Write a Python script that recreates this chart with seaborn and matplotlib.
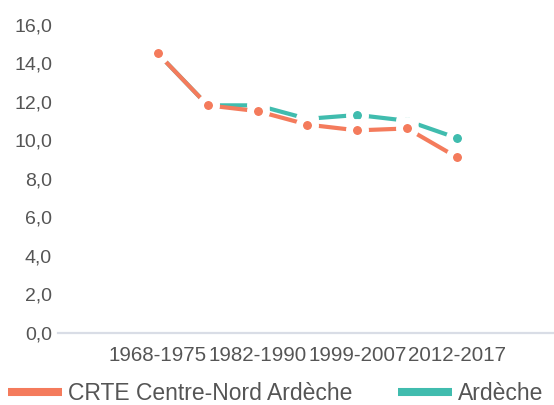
import pandas as pd
import matplotlib
matplotlib.use("Agg")
import matplotlib.pyplot as plt
from matplotlib.lines import Line2D
from matplotlib.ticker import FuncFormatter
import seaborn as sns

# Data
periodes = ['1968-1975', '1975-1982', '1982-1990', '1990-1999',
            '1999-2007', '2007-2012', '2012-2017']
crte = [14.5, 11.8, 11.5, 10.8, 10.5, 10.6, 9.1]
ardeche = [14.5, 11.8, 11.8, 11.1, 11.3, 11.0, 10.1]
series = ['CRTE Centre-Nord Ardèche', 'Ardèche']
colors = {'CRTE Centre-Nord Ardèche': '#F47B5C', 'Ardèche': '#40BCAE'}
shown_ticks = ['1968-1975', '1982-1990', '1999-2007', '2012-2017']

sns.set_style("white")
plt.rcParams['font.family'] = ['Liberation Sans', 'DejaVu Sans']
text_col = '#555555'

df = pd.DataFrame({'periode': periodes * 2,
                   'pos': list(range(len(periodes))) * 2,
                   'valeur': crte + ardeche,
                   'serie': [series[0]] * len(crte) + [series[1]] * len(ardeche)})

fig = plt.figure(figsize=(5.54, 4.05), dpi=100)
ax = fig.add_axes([0.1047, 0.179, 0.895, 0.7605])

# teal first so the orange line sits on top
for name in [series[1], series[0]]:
    sub = df[df['serie'] == name]
    sns.lineplot(data=sub, x='pos', y='valeur', ax=ax, color=colors[name],
                 linewidth=3, marker='o', markersize=11.5,
                 markeredgecolor='white', markeredgewidth=5,
                 solid_capstyle='butt', legend=False)

ax.set_xlim(-2.0, 7.94)
ax.set_ylim(0, 16)
ax.set_yticks(range(0, 17, 2))
ax.yaxis.set_major_formatter(FuncFormatter(lambda v, p: f"{v:.1f}".replace('.', ',')))
ax.set_xticks([periodes.index(t) for t in shown_ticks])
ax.set_xticklabels(shown_ticks)
ax.set_xlabel('')
ax.set_ylabel('')
ax.tick_params(axis='y', length=0, pad=4.3, labelsize=14, labelcolor=text_col)
ax.tick_params(axis='x', length=0, pad=10, labelsize=14.8, labelcolor=text_col)
for s in ['top', 'right', 'left']:
    ax.spines[s].set_visible(False)
ax.spines['bottom'].set_color('#D9DDE6')
ax.spines['bottom'].set_linewidth(1.6)

handles = [Line2D([0], [0], color=colors[n], linewidth=5.8, solid_capstyle='butt')
           for n in series]
fig.legend(handles, series, loc='center', bbox_to_anchor=(276 / 554, 11 / 405),
           ncol=2, frameon=False, fontsize=16.5, labelcolor=text_col,
           handlelength=2.35, handletextpad=0.26, columnspacing=2.0,
           borderaxespad=0, borderpad=0)

fig.savefig("out.png", dpi=100)
